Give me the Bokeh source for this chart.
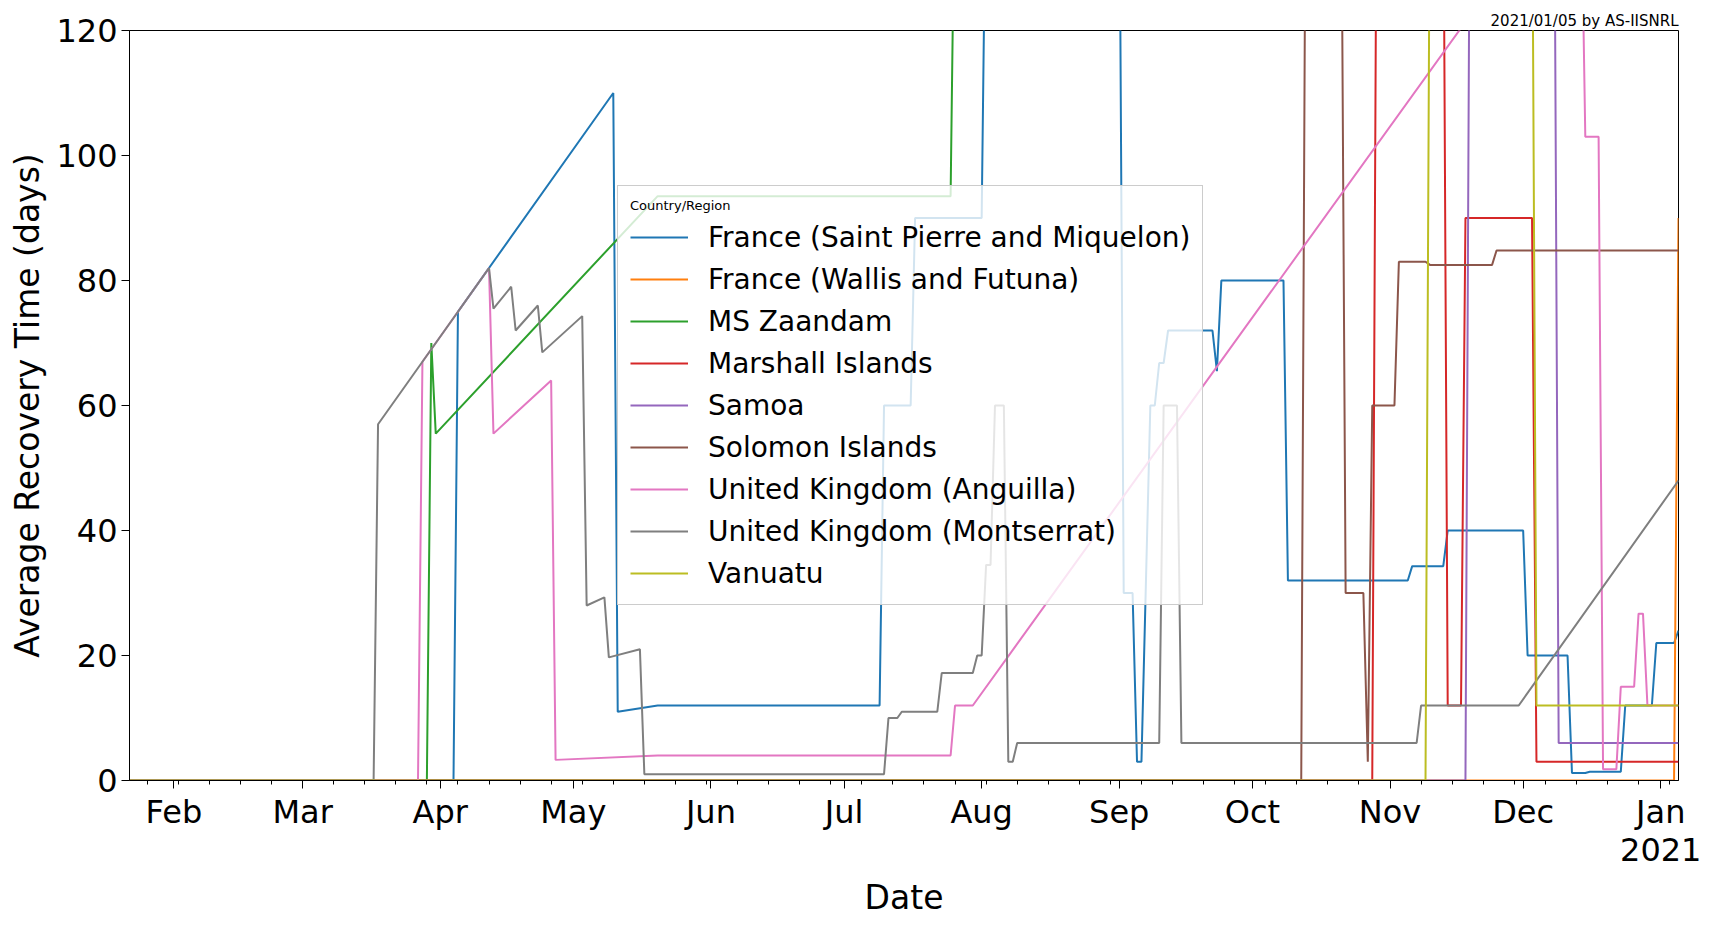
import pandas as pd
from bokeh.plotting import figure
from bokeh.models import FixedTicker, Range1d, Legend, LegendItem, Title
from bokeh.embed import file_html
from bokeh.resources import INLINE

START = "2020-01-22"
END = "2021-01-05"

spm_dates = [START, "2020-04-04", "2020-04-05", "2020-05-10", "2020-05-11", "2020-05-20", "2020-07-09", "2020-07-10", "2020-07-16", "2020-07-17", "2020-08-01", "2020-08-02", "2020-09-01", "2020-09-02", "2020-09-04", "2020-09-05", "2020-09-06", "2020-09-08", "2020-09-09", "2020-09-10", "2020-09-11", "2020-09-12", "2020-09-22", "2020-09-23", "2020-09-24", "2020-10-08", "2020-10-09", "2020-11-05", "2020-11-06", "2020-11-13", "2020-11-14", "2020-12-01", "2020-12-02", "2020-12-11", "2020-12-12", "2020-12-15", "2020-12-16", "2020-12-23", "2020-12-24", "2020-12-30", "2020-12-31", "2021-01-04", END]
spm_vals = [0, 0, 75, 110, 11, 12, 12, 60, 60, 90, 90, 150, 150, 30, 30, 3, 3, 60, 60, 66.8, 66.8, 72, 72, 65.5, 80, 80, 32, 32, 34.3, 34.3, 40, 40, 20, 20, 1.2, 1.2, 1.4, 1.4, 12, 12, 22, 22, 24]

wf_dates = [START, "2021-01-04", END]
wf_vals = [0, 0, 90]

zaan_dates = [START, "2020-03-29", "2020-03-30", "2020-03-31", "2020-05-20", "2020-07-25", "2020-07-26", END]
zaan_vals = [0, 0, 70, 55.5, 93.5, 93.5, 150, 150]

mh_dates = [START, "2020-10-28", "2020-10-29", "2020-11-13", "2020-11-14", "2020-11-17", "2020-11-18", "2020-12-03", "2020-12-04", END]
mh_vals = [0, 0, 150, 150, 12, 12, 90, 90, 3, 3]

sam_dates = [START, "2020-11-18", "2020-11-19", "2020-12-08", "2020-12-09", END]
sam_vals = [0, 0, 150, 150, 6, 6]

sol_dates = [START, "2020-10-12", "2020-10-13", "2020-10-21", "2020-10-22", "2020-10-26", "2020-10-27", "2020-10-28", "2020-11-02", "2020-11-03", "2020-11-09", "2020-11-10", "2020-11-24", "2020-11-25", END]
sol_vals = [0, 0, 150, 150, 30, 30, 3, 60, 60, 83, 83, 82.5, 82.5, 84.8, 84.8]

ang_dates = [START, "2020-03-27", "2020-03-28", "2020-04-12", "2020-04-13", "2020-04-26", "2020-04-27", "2020-05-20", "2020-07-25", "2020-07-26", "2020-07-30", "2020-12-14", "2020-12-15", "2020-12-18", "2020-12-19", "2020-12-22", "2020-12-23", "2020-12-26", "2020-12-27", "2020-12-28", "2020-12-29", END]
ang_vals = [0, 0, 67, 82, 55.5, 64, 3.3, 4, 4, 12, 12, 147, 103, 103, 1.8, 1.8, 15, 15, 26.7, 26.7, 12, 12]

mon_dates = [START, "2020-03-17", "2020-03-18", "2020-04-12", "2020-04-13", "2020-04-17", "2020-04-18", "2020-04-23", "2020-04-24", "2020-05-03", "2020-05-04", "2020-05-08", "2020-05-09", "2020-05-16", "2020-05-17", "2020-07-10", "2020-07-11", "2020-07-13", "2020-07-14", "2020-07-22", "2020-07-23", "2020-07-30", "2020-07-31", "2020-08-01", "2020-08-02", "2020-08-03", "2020-08-04", "2020-08-06", "2020-08-07", "2020-08-08", "2020-08-09", "2020-09-10", "2020-09-11", "2020-09-14", "2020-09-15", "2020-11-07", "2020-11-08", "2020-11-30", END]
mon_vals = [0, 0, 57, 82, 75.5, 79, 72, 76, 68.5, 74.3, 28, 29.3, 19.7, 21, 1, 1, 10, 10, 11, 11, 17.2, 17.2, 20, 20, 34.5, 34.5, 60, 60, 3, 3, 6, 6, 60, 60, 6, 6, 12, 12, 48]

van_dates = [START, "2020-11-09", "2020-11-10", "2020-12-03", "2020-12-04", END]
van_vals = [0, 0, 150, 150, 12, 12]

series_names = ["France (Saint Pierre and Miquelon)", "France (Wallis and Futuna)", "MS Zaandam", "Marshall Islands", "Samoa", "Solomon Islands", "United Kingdom (Anguilla)", "United Kingdom (Montserrat)", "Vanuatu"]
series = [(spm_dates, spm_vals), (wf_dates, wf_vals), (zaan_dates, zaan_vals), (mh_dates, mh_vals), (sam_dates, sam_vals), (sol_dates, sol_vals), (ang_dates, ang_vals), (mon_dates, mon_vals), (van_dates, van_vals)]
colors = ["#1f77b4", "#ff7f0e", "#2ca02c", "#d62728", "#9467bd", "#8c564b", "#e377c2", "#7f7f7f", "#bcbd22"]

month_ticks = ["2020-02-01", "2020-03-01", "2020-04-01", "2020-05-01", "2020-06-01", "2020-07-01", "2020-08-01", "2020-09-01", "2020-10-01", "2020-11-01", "2020-12-01", "2021-01-01"]
month_labels = ["Feb", "Mar", "Apr", "May", "Jun", "Jul", "Aug", "Sep", "Oct", "Nov", "Dec", "Jan\n2021"]

def ms(s):
    return pd.Timestamp(s).value / 1e6

p = figure(width=1709, height=919, x_axis_type="datetime", output_backend="svg", toolbar_location=None,
           x_range=Range1d(ms(START), ms(END)), y_range=Range1d(0, 120),
           min_border_left=129, min_border_right=31, min_border_top=30, min_border_bottom=110)
p.grid.visible = False
p.outline_line_color = "black"
p.outline_line_alpha = 1

items = []
for name, (d, v), c in zip(series_names, series, colors):
    r = p.line(pd.to_datetime(d), v, line_color=c, line_width=2)
    items.append(LegendItem(label=name, renderers=[r]))

tick_ms = [ms(t) for t in month_ticks]
minor = [ms(t) for t in pd.date_range("2020-01-26", "2021-01-05", freq="7D")]
p.xaxis.ticker = FixedTicker(ticks=tick_ms, minor_ticks=minor)
p.xaxis.major_label_overrides = {t: l for t, l in zip(tick_ms, month_labels)}
p.yaxis.ticker = FixedTicker(ticks=[0, 20, 40, 60, 80, 100, 120])

for ax in (p.xaxis[0], p.yaxis[0]):
    ax.major_label_text_font = "DejaVu Sans"
    ax.major_label_text_font_size = "32px"
    ax.major_label_text_color = "black"
    ax.major_label_standoff = 4
    ax.axis_label_text_font = "DejaVu Sans"
    ax.axis_label_text_font_size = "33px"
    ax.axis_label_text_font_style = "normal"
    ax.axis_label_text_color = "black"
    ax.axis_label_standoff = 6
    ax.axis_line_color = "black"
    ax.major_tick_line_color = "black"
    ax.minor_tick_line_color = "black"
    ax.major_tick_in = 0
    ax.major_tick_out = 8
    ax.minor_tick_in = 0
    ax.minor_tick_out = 4
p.xaxis.axis_label = "Date"
p.yaxis.axis_label = "Average Recovery Time (days)"
p.xaxis.major_label_text_line_height = 1.0

legend = Legend(items=items, location=(488, 175), title="Country/Region",
                title_text_font="DejaVu Sans", title_text_font_size="13px", title_text_font_style="normal",
                title_text_color="black",
                label_text_font="DejaVu Sans", label_text_font_size="28px", label_text_color="black",
                glyph_width=58, glyph_height=38, label_height=38, spacing=4, padding=12,
                label_standoff=20,
                border_line_color="#cccccc", border_line_alpha=1, background_fill_alpha=0.8)
legend.title_location = "above"
p.add_layout(legend, "center")

p.add_layout(Title(text="2021/01/05 by AS-IISNRL", align="right", text_font="DejaVu Sans",
                   text_font_size="15px", text_font_style="normal", text_color="black", standoff=2), "above")

open("out.html", "w").write(file_html(p, INLINE))
